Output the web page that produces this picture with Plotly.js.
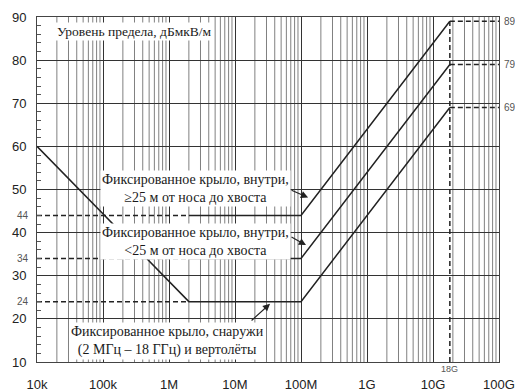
<!DOCTYPE html>
<html>
<head>
<meta charset="utf-8">
<script src="https://cdn.plot.ly/plotly-3.0.1.min.js"></script>
<style>
  html, body { margin: 0; padding: 0; background: #fff; }
  #chart { width: 515px; height: 391px; }
</style>
</head>
<body>
<div id="chart"></div>
<script>
// Radiated emission limit curves (dBµV/m) versus frequency
const freqExternal   = [1e4, 2e6, 1e8, 1.8e10];
const levelExternal  = [60, 24, 24, 69];
const freqInternalS  = [2e6, 1e8, 1.8e10];
const levelInternalS = [34, 34, 79];
const freqInternalL  = [2e6, 1e8, 1.8e10];
const levelInternalL = [44, 44, 89];

// Reference marks
const startFreq = 1e4;
const kneeFreq  = 2e6;
const topFreq   = 1.8e10;
const endFreq   = 1e11;
const flatLevels = [24, 34, 44];
const topLevels  = [69, 79, 89];

const xTickVals = [1e4, 1e5, 1e6, 1e7, 1e8, 1e9, 1e10, 1e11];
const xTickText = ['10k', '100k', '1M', '10M', '100M', '1G', '10G', '100G'];

const labelLong  = 'Фиксированное крыло, внутри,<br>≥25 м от носа до хвоста';
const labelShort = 'Фиксированное крыло, внутри,<br><25 м от носа до хвоста';
const labelExt   = 'Фиксированное крыло, снаружи<br>(2 МГц – 18 ГГц) и вертолёты';
const yTitle     = 'Уровень предела, дБмкВ/м';

const ink = '#222';
const solid = {color: ink, width: 1.5};
const dashed = {color: ink, width: 1.5, dash: '5px,3px'};

const traces = [];
function addLine(x, y, line) {
  traces.push({x: x, y: y, mode: 'lines', line: line, hoverinfo: 'skip', showlegend: false});
}
addLine(freqExternal, levelExternal, solid);
addLine(freqInternalS, levelInternalS, solid);
addLine(freqInternalL, levelInternalL, solid);
flatLevels.forEach(v => addLine([startFreq, kneeFreq], [v, v], dashed));
topLevels.forEach(v => addLine([topFreq, endFreq], [v, v], dashed));
addLine([topFreq, topFreq], [10, Math.max(...topLevels)], dashed);

// Minor log grid lines (2..9 in each decade)
const shapes = [];
for (let d = 4; d < 11; d++) {
  for (let k = 2; k <= 9; k++) {
    const f = k * Math.pow(10, d);
    shapes.push({type: 'line', xref: 'x', yref: 'paper', x0: f, x1: f, y0: 0, y1: 1,
                 layer: 'below', line: {color: '#808080', width: 1}});
  }
}

// Value of a limit curve at frequency f (log-linear interpolation)
function levelAt(fs, ls, f) {
  for (let i = 0; i < fs.length - 1; i++) {
    if (f >= fs[i] && f <= fs[i + 1]) {
      const t = (Math.log10(f) - Math.log10(fs[i])) / (Math.log10(fs[i + 1]) - Math.log10(fs[i]));
      return ls[i] + t * (ls[i + 1] - ls[i]);
    }
  }
  return ls[ls.length - 1];
}

const serifFamily = 'Times New Roman, Liberation Serif, DejaVu Serif, serif';
const serif = {family: serifFamily, size: 14, color: '#1a1a1a'};
const small = {family: 'Liberation Sans, Arial, sans-serif', size: 10, color: '#555'};

function textBox(x, y, text, size) {
  return {xref: 'paper', yref: 'paper', x: x, y: y, xanchor: 'center', yanchor: 'middle',
          text: text, showarrow: false, font: {family: serifFamily, size: size || 14, color: '#1a1a1a'},
          bgcolor: '#fff', borderpad: 1};
}

const annotations = [
  textBox(0.212, 0.959, yTitle, 13.5),
  textBox(0.344, 0.503, labelLong),
  textBox(0.344, 0.348, labelShort),
  textBox(0.2835, 0.061, labelExt),
  // Pointers to the curves
  {x: Math.log10(1.28e8), y: levelAt(freqInternalL, levelInternalL, 1.28e8) + 2, text: '',
   showarrow: true, arrowhead: 2, arrowsize: 1.2, arrowwidth: 1.2, arrowcolor: ink, ax: -18, ay: -8},
  {x: Math.log10(1.19e8), y: levelAt(freqInternalS, levelInternalS, 1.19e8) + 1.6, text: '',
   showarrow: true, arrowhead: 2, arrowsize: 1.2, arrowwidth: 1.2, arrowcolor: ink, ax: -16, ay: -9},
  {x: Math.log10(3.4e7), y: levelAt(freqExternal, levelExternal, 3.4e7) - 0.5, text: '',
   showarrow: true, arrowhead: 2, arrowsize: 1.2, arrowwidth: 1.2, arrowcolor: ink, ax: -20, ay: 18},
  {xref: 'x', yref: 'paper', x: Math.log10(topFreq), y: 0, yshift: 0, xshift: 0,
   xanchor: 'center', yanchor: 'top', text: '18G', showarrow: false,
   font: {family: small.family, size: 9, color: '#555'}}
];
flatLevels.forEach(v => annotations.push({xref: 'paper', yref: 'y', x: -0.012, y: v, xanchor: 'right',
  text: String(v), showarrow: false, font: small}));
topLevels.forEach(v => annotations.push({xref: 'paper', yref: 'y', x: 1.006, y: v, xanchor: 'left',
  text: String(v), showarrow: false, font: small}));

const tickFont = {family: 'Liberation Sans, Arial, sans-serif', size: 13, color: ink};

const layout = {
  width: 515, height: 391,
  margin: {l: 37, r: 16, t: 17, b: 29},
  paper_bgcolor: '#fff', plot_bgcolor: '#fff',
  showlegend: false,
  xaxis: {
    type: 'log', range: [4, 11], tickvals: xTickVals, ticktext: xTickText,
    showgrid: true, gridcolor: '#333', gridwidth: 1, zeroline: false,
    showline: true, linecolor: '#444', mirror: true, ticks: '',
    tickfont: tickFont, ticklabelstandoff: 10
  },
  yaxis: {
    range: [10, 90], dtick: 10, tick0: 10,
    showgrid: true, gridcolor: '#333', gridwidth: 1, zeroline: false,
    showline: true, linecolor: '#444', mirror: true, ticks: '',
    tickfont: tickFont, ticklabelstandoff: 7,
    minor: {dtick: 2, ticks: 'inside', ticklen: 4, tickcolor: '#555', showgrid: false}
  },
  shapes: shapes,
  annotations: annotations
};

Plotly.newPlot('chart', traces, layout, {staticPlot: true, displayModeBar: false});
</script>
</body>
</html>
